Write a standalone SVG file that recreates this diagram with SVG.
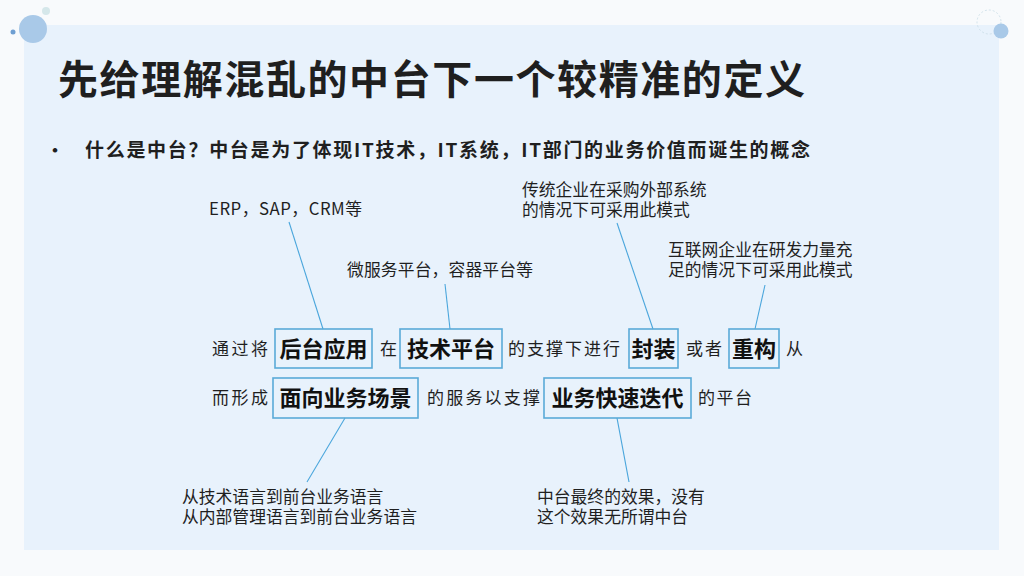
<svg xmlns="http://www.w3.org/2000/svg" width="1024" height="576" viewBox="0 0 1024 576">
<style>
text{font-family:"Noto Sans CJK SC","Noto Sans",sans-serif;fill:#1f1f1f}
.t{font-size:17px}
.a{font-size:16.8px}
.b{font-size:22px;font-weight:bold;text-anchor:middle;fill:#111}
.box{fill:none;stroke:#5aaad8;stroke-width:1.6}
.ln{stroke:#4aa6dc;stroke-width:1.1;fill:none}
</style>
<rect x="0" y="0" width="1024" height="576" fill="#f8fafc"/>
<rect x="24" y="25" width="975" height="525" fill="#e8f2fc"/>
<g id="decor">
<circle cx="33" cy="29" r="14" fill="#a9c9e8"/>
<circle cx="46" cy="11" r="4" fill="#d5e7ea"/>
<circle cx="13" cy="32" r="2.5" fill="#6f9fd2"/>
<circle cx="989" cy="22" r="12" fill="none" stroke="#c8dce6" stroke-width="0.8" stroke-dasharray="2 2"/>
<circle cx="1001" cy="31" r="7.5" fill="#a9c9e8"/>
</g>
<text x="58" y="94" font-size="40" font-weight="bold" textLength="747" lengthAdjust="spacing" fill="#1a1a1a">先给理解混乱的中台下一个较精准的定义</text>
<text x="46" y="157" font-size="18" font-weight="bold">•</text>
<text x="85" y="157" font-size="19" font-weight="bold" textLength="725" lengthAdjust="spacing">什么是中台？中台是为了体现IT技术，IT系统，IT部门的业务价值而诞生的概念</text>
<g id="connectors">
<line class="ln" x1="289" y1="222" x2="323" y2="329"/>
<line class="ln" x1="445" y1="284" x2="450" y2="329"/>
<line class="ln" x1="617" y1="223" x2="653" y2="329"/>
<line class="ln" x1="765" y1="285" x2="755" y2="329"/>
<line class="ln" x1="345" y1="418" x2="307" y2="482"/>
<line class="ln" x1="617" y1="418" x2="629" y2="482"/>
</g>
<g id="sentence">
<text class="t" x="212" y="355" textLength="56" lengthAdjust="spacing">通过将</text>
<text class="t" x="380" y="355">在</text>
<text class="t" x="508" y="355" textLength="112" lengthAdjust="spacing">的支撑下进行</text>
<text class="t" x="686" y="355" textLength="36" lengthAdjust="spacing">或者</text>
<text class="t" x="786" y="355">从</text>
<text class="t" x="212" y="404" textLength="56" lengthAdjust="spacing">而形成</text>
<text class="t" x="427" y="404" textLength="113" lengthAdjust="spacing">的服务以支撑</text>
<text class="t" x="698" y="404" textLength="54" lengthAdjust="spacing">的平台</text>
</g>
<g id="n-houtai"><rect class="box" x="275" y="329" width="97" height="39"/><text class="b" x="323.5" y="357">后台应用</text></g>
<g id="n-jishu"><rect class="box" x="400" y="329" width="102" height="39"/><text class="b" x="451" y="357">技术平台</text></g>
<g id="n-fengzhuang"><rect class="box" x="629" y="329" width="49" height="39"/><text class="b" x="653.5" y="357">封装</text></g>
<g id="n-chonggou"><rect class="box" x="729" y="329" width="50" height="39"/><text class="b" x="754" y="357">重构</text></g>
<g id="n-mianxiang"><rect class="box" x="273" y="378" width="145" height="40"/><text class="b" x="345.5" y="406">面向业务场景</text></g>
<g id="n-kuaisu"><rect class="box" x="544" y="378" width="147" height="40"/><text class="b" x="617.5" y="406">业务快速迭代</text></g>
<g id="n-erp"><text class="a" x="209" y="215" textLength="153" lengthAdjust="spacing">ERP，SAP，CRM等</text></g>
<g id="n-weifuwu"><text class="a" x="347" y="276" textLength="186" lengthAdjust="spacing">微服务平台，容器平台等</text></g>
<g id="n-chuantong"><text class="a" x="522" y="196">传统企业在采购外部系统<tspan x="522" dy="20">的情况下可采用此模式</tspan></text></g>
<g id="n-hulianwang"><text class="a" x="668" y="256">互联网企业在研发力量充<tspan x="668" dy="20">足的情况下可采用此模式</tspan></text></g>
<g id="n-yuyan"><text class="a" x="182" y="503">从技术语言到前台业务语言<tspan x="182" dy="20">从内部管理语言到前台业务语言</tspan></text></g>
<g id="n-xiaoguo"><text class="a" x="537" y="503">中台最终的效果，没有<tspan x="537" dy="20">这个效果无所谓中台</tspan></text></g>
</svg>
